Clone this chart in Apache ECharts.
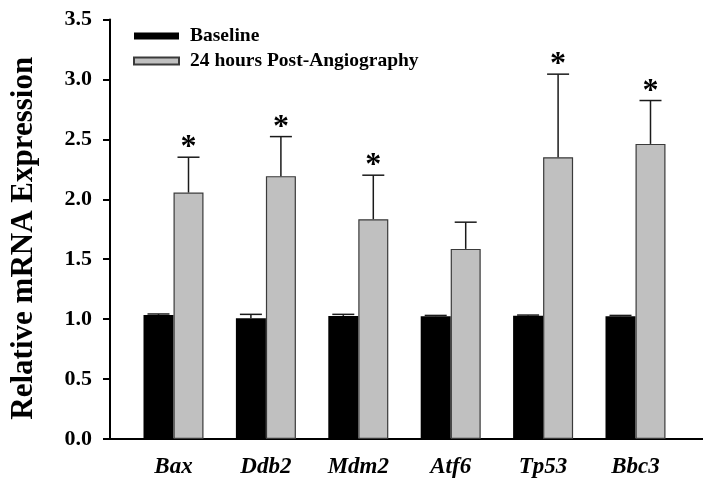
<!DOCTYPE html>
<html>
<head>
<meta charset="utf-8">
<script src="https://cdn.jsdelivr.net/npm/echarts@6/dist/echarts.min.js"></script>
<style>
html,body{margin:0;padding:0;background:#fff;}
#chart{width:703px;height:485px;}
</style>
</head>
<body>
<div id="chart"></div>
<script>
var categories = ['Bax', 'Ddb2', 'Mdm2', 'Atf6', 'Tp53', 'Bbc3'];
var baseline = [1.035, 1.007, 1.027, 1.025, 1.028, 1.025];
var baselineErr = [0.008, 0.033, 0.013, 0.006, 0.006, 0.006];
var post = [2.056, 2.193, 1.834, 1.586, 2.351, 2.462];
var postErr = [0.295, 0.330, 0.367, 0.223, 0.693, 0.362];
var significant = [true, true, true, false, true, true];
var yTicks = [0.0, 0.5, 1.0, 1.5, 2.0, 2.5, 3.0, 3.5];
var seriesNames = ['Baseline', '24 hours Post-Angiography'];

var FONT = '"Liberation Serif", "Times New Roman", serif';
var BAR_W = 30;

function errData(vals, errs, offsetSign) {
  return vals.map(function (v, i) { return [i, v, errs[i], offsetSign, significant[i] ? 1 : 0]; });
}

function errRender(showStar) {
  return function (params, api) {
    var i = api.value(0), v = api.value(1), e = api.value(2), sgn = api.value(3), sig = api.value(4);
    var p0 = api.coord([i, v]);
    var p1 = api.coord([i, v + e]);
    var x = p0[0] + sgn * BAR_W / 2;
    var children = [
      { type: 'line', shape: { x1: x, y1: p0[1], x2: x, y2: p1[1] }, style: { stroke: '#1a1a1a', lineWidth: 1.5 } },
      { type: 'line', shape: { x1: x - 11, y1: p1[1], x2: x + 11, y2: p1[1] }, style: { stroke: '#1a1a1a', lineWidth: 1.5 } }
    ];
    if (showStar && sig) {
      children.push({
        type: 'text',
        style: {
          text: '*', x: x, y: p1[1] + 7, fill: '#000',
          font: 'bold 32px ' + FONT, textAlign: 'center', textVerticalAlign: 'bottom'
        }
      });
    }
    return { type: 'group', children: children };
  };
}

var chart = echarts.init(document.getElementById('chart'), null, { renderer: 'canvas' });
chart.setOption({
  backgroundColor: '#fff',
  animation: false,
  legend: {
    data: seriesNames,
    orient: 'vertical',
    left: 128,
    top: 21,
    icon: 'rect',
    itemWidth: 45,
    itemHeight: 7,
    itemGap: 5,
    textStyle: { fontFamily: FONT, fontWeight: 'bold', fontSize: 19.5, color: '#000', lineHeight: 20, padding: [0, 0, 0, 6] }
  },
  grid: [
    { left: 105, right: 0, top: 19.5, bottom: 46, containLabel: false },
    { left: 127.3, right: 21.3, top: 19.5, bottom: 46, containLabel: false }
  ],
  xAxis: [
    { gridIndex: 0, type: 'value', min: 0, max: 1, axisLine: { show: true, lineStyle: { color: '#000', width: 2 } },
      axisTick: { show: false }, axisLabel: { show: false }, splitLine: { show: false } },
    { gridIndex: 1, type: 'category', data: categories, axisLine: { show: false }, axisTick: { show: false },
      axisLabel: { fontFamily: FONT, fontWeight: 'bold', fontStyle: 'italic', fontSize: 23, color: '#000', margin: 17 } }
  ],
  yAxis: [
    { gridIndex: 0, type: 'value', min: 0, max: 3.5, interval: 0.5,
      name: 'Relative mRNA Expression', nameLocation: 'middle', nameGap: 71,
      nameTextStyle: { fontFamily: FONT, fontWeight: 'bold', fontSize: 31, color: '#000', padding: [0, 18, 0, 0] },
      axisLine: { show: true, lineStyle: { color: '#000', width: 2 } },
      axisTick: { show: true, inside: false, length: 7, lineStyle: { color: '#000', width: 2 } },
      axisLabel: { fontFamily: FONT, fontWeight: 'bold', fontSize: 22, color: '#000', margin: 18,
        formatter: function (v) { return v.toFixed(1); } },
      splitLine: { show: false } },
    { gridIndex: 1, type: 'value', min: 0, max: 3.5, show: false, splitLine: { show: false } }
  ],
  series: [
    { name: seriesNames[0], type: 'bar', xAxisIndex: 1, yAxisIndex: 1, data: baseline, barWidth: BAR_W, barGap: '0%',
      itemStyle: { color: '#000', borderColor: '#000', borderWidth: 0 } },
    { name: seriesNames[1], type: 'bar', xAxisIndex: 1, yAxisIndex: 1, data: post, barWidth: BAR_W, barGap: '0%',
      itemStyle: { color: '#c0c0c0', borderColor: '#3a3a3a', borderWidth: 1.2 } },
    { type: 'custom', xAxisIndex: 1, yAxisIndex: 1, data: errData(baseline, baselineErr, -1), renderItem: errRender(false), z: 5, silent: true },
    { type: 'custom', xAxisIndex: 1, yAxisIndex: 1, data: errData(post, postErr, 1), renderItem: errRender(true), z: 5, silent: true }
  ]
});
</script>
</body>
</html>
